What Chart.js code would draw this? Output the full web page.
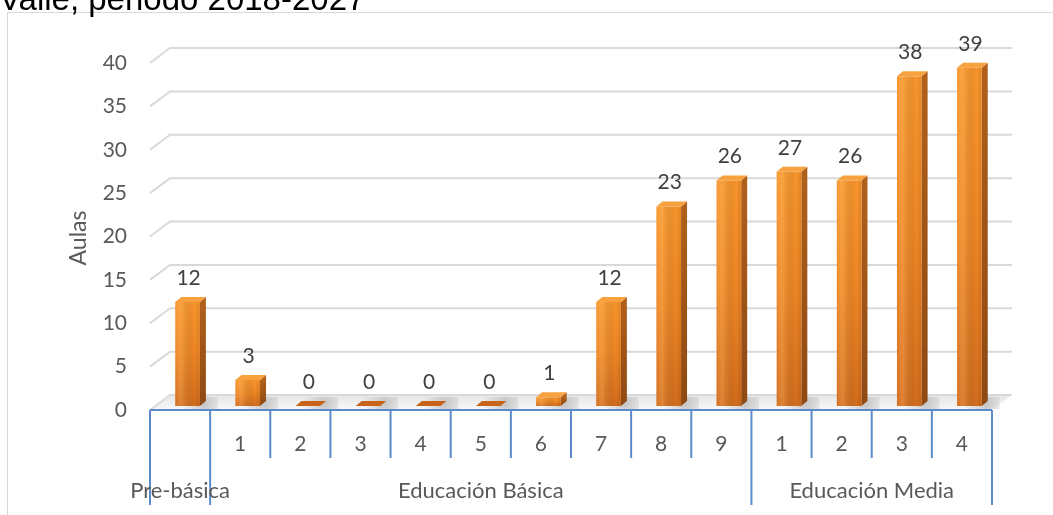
<!DOCTYPE html>
<html>
<head>
<meta charset="utf-8">
<script src="https://cdn.jsdelivr.net/npm/chart.js@4.4.1/dist/chart.umd.min.js"></script>
<style>
  html, body { margin: 0; padding: 0; background: #fff; }
  #wrap { position: relative; width: 1053px; height: 515px; overflow: hidden; }
</style>
</head>
<body>
<div id="wrap"><canvas id="chart" width="1053" height="515"></canvas></div>
<script>
// grade labels under each bar, and the values shown on top of the bars
const grades = ['', '1', '2', '3', '4', '5', '6', '7', '8', '9', '1', '2', '3', '4'];
const aulas = [12, 3, 0, 0, 0, 0, 1, 12, 23, 26, 27, 26, 38, 39];
// level groups under the grades
const groupNames = ['Pre-básica', 'Educación Básica', 'Educación Media'];
const groupSizes = [1, 9, 4];

const titleText = 'Valle, periodo 2018-2027';
const FONT = 'Lato, "Open Sans", sans-serif';
const TEXT = '#595959';
const AXIS_BLUE = '#5B8BCB';

// fake 3d: back wall offset, bar offset inside the floor, bar depth
const WALL_DX = 20, WALL_DY = -15;
const BAR_FX = 7.5, BAR_FY = -4;
const BAR_DX = 6, BAR_DY = -5;

// category edges from the x scale
function edges(xs) {
  const n = grades.length;
  const step = xs.getPixelForValue(1) - xs.getPixelForValue(0);
  const out = [];
  for (let i = 0; i <= n; i++) out.push(xs.getPixelForValue(0) - step / 2 + i * step);
  return out;
}

const wall3d = {
  id: 'wall3d',
  beforeDraw(chart) {
    const ctx = chart.ctx;
    ctx.save();
    // outer frame
    ctx.strokeStyle = '#D9D9D9';
    ctx.lineWidth = 1;
    ctx.strokeRect(7.5, 12.5, 1100, 600);
    // title, cut at the top
    ctx.fillStyle = '#000';
    ctx.font = '33px "Liberation Sans", Arial, sans-serif';
    ctx.textBaseline = 'alphabetic';
    ctx.fillText(titleText, -1, 10);
    ctx.restore();
  },
  beforeDatasetsDraw(chart) {
    const { ctx, chartArea: a, scales: { y } } = chart;
    ctx.save();
    // floor
    const g = ctx.createLinearGradient(0, a.bottom + WALL_DY, 0, a.bottom);
    g.addColorStop(0, '#E6E6E6');
    g.addColorStop(1, '#F8F8F8');
    ctx.fillStyle = g;
    ctx.beginPath();
    ctx.moveTo(a.left, a.bottom);
    ctx.lineTo(a.left + WALL_DX, a.bottom + WALL_DY);
    ctx.lineTo(a.right + WALL_DX, a.bottom + WALL_DY);
    ctx.lineTo(a.right, a.bottom);
    ctx.closePath();
    ctx.fill();
    // grid lines on the floor edge and back wall
    ctx.strokeStyle = '#D9D9D9';
    ctx.lineWidth = 2;
    y.ticks.forEach(t => {
      const py = y.getPixelForValue(t.value);
      ctx.beginPath();
      ctx.moveTo(a.left, py);
      ctx.lineTo(a.left + WALL_DX, py + WALL_DY);
      ctx.lineTo(a.right + WALL_DX, py + WALL_DY);
      ctx.stroke();
    });
    ctx.restore();
  },
  afterDatasetsDraw(chart) {
    const { ctx } = chart;
    const meta = chart.getDatasetMeta(0);
    ctx.save();
    meta.data.forEach((bar, i) => {
      const p = bar.getProps(['x', 'y', 'base', 'width'], true);
      const l = p.x - p.width / 2 + BAR_FX, r = p.x + p.width / 2 + BAR_FX;
      const t = p.y + BAR_FY, b = p.base + BAR_FY;
      // shadow on floor
      const sh = ctx.createRadialGradient(r + 4, b - 1, 1, r + 4, b - 1, p.width * 0.9);
      sh.addColorStop(0, 'rgba(120,120,120,0.35)');
      sh.addColorStop(1, 'rgba(120,120,120,0)');
      ctx.fillStyle = sh;
      ctx.fillRect(l - 6, b - 9, p.width + 24, 12);
      if (b - t > 0.5) {
        // side
        const sg = ctx.createLinearGradient(0, t, 0, b);
        sg.addColorStop(0, '#B0601B');
        sg.addColorStop(1, '#8E4912');
        ctx.fillStyle = sg;
        ctx.beginPath();
        ctx.moveTo(r, b);
        ctx.lineTo(r + BAR_DX, b + BAR_DY);
        ctx.lineTo(r + BAR_DX, t + BAR_DY);
        ctx.lineTo(r, t);
        ctx.closePath();
        ctx.fill();
        // front
        const fg = ctx.createLinearGradient(0, t, 0, b);
        fg.addColorStop(0, '#F9962C');
        fg.addColorStop(0.5, '#EE8624');
        fg.addColorStop(1, '#D46D1D');
        ctx.fillStyle = fg;
        ctx.fillRect(l, t, r - l, b - t);
        const hg = ctx.createLinearGradient(l, 0, r, 0);
        hg.addColorStop(0, 'rgba(255,255,255,0.0)');
        hg.addColorStop(0.25, 'rgba(255,200,120,0.25)');
        hg.addColorStop(0.8, 'rgba(0,0,0,0)');
        hg.addColorStop(1, 'rgba(120,50,0,0.15)');
        ctx.fillStyle = hg;
        ctx.fillRect(l, t, r - l, b - t);
      }
      // top
      ctx.fillStyle = b - t > 0.5 ? '#F7A23F' : '#C8641A';
      ctx.beginPath();
      ctx.moveTo(l, t);
      ctx.lineTo(r, t);
      ctx.lineTo(r + BAR_DX, t + BAR_DY);
      ctx.lineTo(l + BAR_DX, t + BAR_DY);
      ctx.closePath();
      ctx.fill();
      // value label
      ctx.fillStyle = '#404040';
      ctx.font = '21px ' + FONT;
      ctx.textAlign = 'center';
      ctx.textBaseline = 'alphabetic';
      ctx.fillText(String(aulas[i]), (l + r) / 2 + 1, t - 17);
    });
    ctx.restore();
  },
  afterDraw(chart) {
    const { ctx, chartArea: a, scales: { x } } = chart;
    const e = edges(x);
    ctx.save();
    ctx.strokeStyle = AXIS_BLUE;
    ctx.lineWidth = 2;
    ctx.beginPath();
    ctx.moveTo(e[0], a.bottom);
    ctx.lineTo(e[e.length - 1], a.bottom);
    ctx.stroke();
    // group boundaries go all the way down, grade ticks stop halfway
    const bounds = [0];
    groupSizes.forEach(s => bounds.push(bounds[bounds.length - 1] + s));
    e.forEach((px, i) => {
      const full = bounds.includes(i);
      ctx.beginPath();
      ctx.moveTo(px, a.bottom);
      ctx.lineTo(px, full ? a.bottom + 95 : a.bottom + 48);
      ctx.stroke();
    });
    ctx.fillStyle = TEXT;
    ctx.font = '22px ' + FONT;
    ctx.textAlign = 'center';
    ctx.textBaseline = 'middle';
    groupNames.forEach((name, k) => {
      const cx = (e[bounds[k]] + e[bounds[k + 1]]) / 2;
      ctx.fillText(name, cx, a.bottom + 81);
    });
    // y axis title
    ctx.translate(79, 238);
    ctx.rotate(-Math.PI / 2);
    ctx.font = '23px ' + FONT;
    ctx.fillText('Aulas', 0, 0);
    ctx.restore();
  }
};

new Chart(document.getElementById('chart'), {
  type: 'bar',
  data: {
    labels: grades,
    datasets: [{
      label: 'Aulas',
      data: aulas,
      backgroundColor: 'rgba(0,0,0,0)',
      borderWidth: 0,
      barPercentage: 0.41,
      categoryPercentage: 1
    }]
  },
  options: {
    responsive: false,
    animation: false,
    layout: { padding: { top: 63, right: 61, bottom: 0, left: 0 } },
    plugins: { legend: { display: false }, tooltip: { enabled: false } },
    scales: {
      x: {
        grid: { display: false, drawTicks: false },
        border: { display: false },
        ticks: { color: TEXT, font: { family: FONT, size: 21 }, padding: 22, maxRotation: 0, autoSkip: false },
        afterFit(s) { s.height = 105; }
      },
      y: {
        min: 0, max: 40,
        grid: { display: false, drawTicks: false },
        border: { display: false },
        ticks: { stepSize: 5, color: TEXT, font: { family: FONT, size: 21 }, padding: 23 },
        afterFit(s) { s.width = 150; }
      }
    }
  },
  plugins: [wall3d]
});
</script>
</body>
</html>
